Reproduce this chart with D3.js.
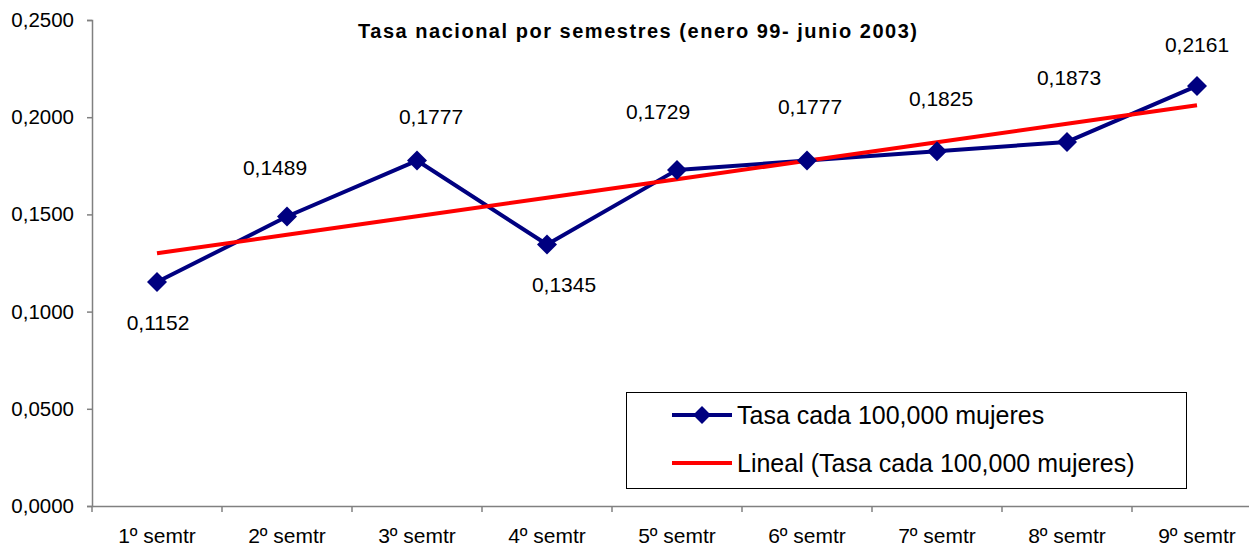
<!DOCTYPE html>
<html>
<head>
<meta charset="utf-8">
<script src="https://cdn.jsdelivr.net/npm/d3@7"></script>
<style>
  html, body { margin: 0; padding: 0; background: #ffffff; }
  svg { display: block; font-family: "Liberation Sans", Arial, sans-serif; }
</style>
</head>
<body>
<svg id="chart" width="1249" height="549"></svg>
<script>
// ---- data ----
const categories = ["1º semtr", "2º semtr", "3º semtr", "4º semtr", "5º semtr", "6º semtr", "7º semtr", "8º semtr", "9º semtr"];
const tasa = [0.1152, 0.1489, 0.1777, 0.1345, 0.1729, 0.1777, 0.1825, 0.1873, 0.2161];
const yTicks = [0, 0.05, 0.10, 0.15, 0.20, 0.25];
const titleText = "Tasa nacional por semestres (enero 99- junio 2003)";
const seriesName = "Tasa cada 100,000 mujeres";
const trendName = "Lineal (Tasa cada 100,000 mujeres)";
// label placement (layout only): offsets of each data label from its point, in px
const labelDx = [1, -12, 14, 17, -19, 3, 4, 2, 0];
const labelDy = [41, -49, -44, 40, -58, -54, -53, -64, -41];

// ---- layout ----
const svg = d3.select("#chart");
const x = d3.scaleBand().domain(categories).range([92, 1262]).padding(0);
const y = d3.scaleLinear().domain([0, 0.25]).range([506, 20]);
const fmt = v => d3.format(".4f")(v).replace(".", ",");

const blue = "#000080", red = "#ff0000", axisCol = "#808080";

// linear trend (least squares on index 1..n)
const n = tasa.length;
const xs = d3.range(1, n + 1);
const mx = d3.mean(xs), my = d3.mean(tasa);
const slope = d3.sum(xs.map((xi, i) => (xi - mx) * (tasa[i] - my))) / d3.sum(xs.map(xi => (xi - mx) ** 2));
const intercept = my - slope * mx;
const trend = xs.map(xi => intercept + slope * xi);

// axes
const yAxis = d3.axisLeft(y).tickValues(yTicks).tickFormat(fmt).tickSize(5).tickPadding(13);
const gy = svg.append("g").attr("transform", "translate(92,0)").call(yAxis);
gy.select(".domain").attr("stroke", axisCol).attr("stroke-width", 1.5);
gy.selectAll(".tick line").attr("stroke", axisCol).attr("stroke-width", 1.5);
gy.selectAll(".tick text").attr("font-size", 20.5).attr("fill", "#000").attr("font-family", "Liberation Sans, Arial, sans-serif");

const xAxis = d3.axisBottom(x).tickSize(0).tickPadding(0);
const gx = svg.append("g").attr("transform", "translate(0,506)").call(xAxis);
gx.select(".domain").attr("stroke", axisCol).attr("stroke-width", 1.5);
gx.selectAll(".tick text").attr("font-size", 21).attr("fill", "#000").attr("dy", null).attr("y", 37)
  .attr("font-family", "Liberation Sans, Arial, sans-serif");
// category boundary tick marks
svg.append("g").selectAll("line").data(categories).join("line")
  .attr("x1", d => x(d)).attr("x2", d => x(d))
  .attr("y1", 506).attr("y2", 512)
  .attr("stroke", axisCol).attr("stroke-width", 1.5);

// series line
const cx = (d, i) => x(categories[i]) + x.bandwidth() / 2;
const line = d3.line().x((d, i) => cx(d, i)).y(d => y(d));
svg.append("path").datum(tasa).attr("d", line)
  .attr("fill", "none").attr("stroke", blue).attr("stroke-width", 4).attr("stroke-linejoin", "round");

// trend line
svg.append("path").datum(trend).attr("d", line)
  .attr("fill", "none").attr("stroke", red).attr("stroke-width", 4);

// markers
const diamond = d3.symbol().type(d3.symbolSquare).size(200);
svg.append("g").selectAll("path").data(tasa).join("path")
  .attr("d", diamond)
  .attr("transform", (d, i) => `translate(${cx(d, i)},${y(d)}) rotate(45)`)
  .attr("fill", blue);

// data labels
svg.append("g").selectAll("text").data(tasa).join("text")
  .attr("x", (d, i) => cx(d, i) + labelDx[i])
  .attr("y", (d, i) => y(d) + labelDy[i])
  .attr("dy", "0.35em")
  .attr("text-anchor", "middle")
  .attr("font-size", 21)
  .attr("fill", "#000")
  .text(d => fmt(d));

// title
svg.append("text")
  .attr("x", 358).attr("y", 38)
  .attr("font-size", 20).attr("font-weight", "bold")
  .attr("textLength", 559).attr("lengthAdjust", "spacing")
  .attr("fill", "#000")
  .text(titleText);

// legend
const lg = svg.append("g");
lg.append("rect").attr("x", 626.5).attr("y", 392.5).attr("width", 560).attr("height", 96)
  .attr("fill", "#fff").attr("stroke", "#000").attr("stroke-width", 1);
lg.append("line").attr("x1", 672).attr("x2", 732).attr("y1", 415).attr("y2", 415)
  .attr("stroke", blue).attr("stroke-width", 4);
lg.append("path").attr("d", d3.symbol().type(d3.symbolSquare).size(160))
  .attr("transform", "translate(702,415) rotate(45)").attr("fill", blue);
lg.append("text").attr("x", 737).attr("y", 415).attr("dy", "0.35em")
  .attr("font-size", 25).attr("fill", "#000").text(seriesName);
lg.append("line").attr("x1", 672).attr("x2", 732).attr("y1", 463).attr("y2", 463)
  .attr("stroke", red).attr("stroke-width", 4);
lg.append("text").attr("x", 737).attr("y", 463).attr("dy", "0.35em")
  .attr("font-size", 25).attr("fill", "#000").text(trendName);
</script>
</body>
</html>
